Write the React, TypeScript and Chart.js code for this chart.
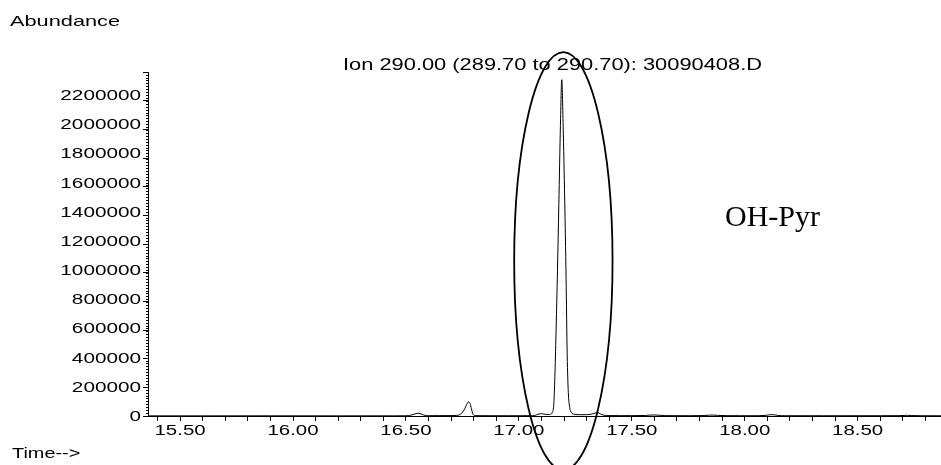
import React, { useEffect, useRef } from 'react';
import { Chart, registerables } from 'chart.js';

Chart.register(...registerables);

// Retention time (min) of the extracted ion chromatogram trace
const retentionTime = [
  15.36, 15.6, 15.9, 16.2, 16.45, 16.5, 16.52, 16.535, 16.555, 16.57, 16.585, 16.6, 16.65, 16.7,
  16.725, 16.74, 16.755, 16.765, 16.772, 16.778, 16.784, 16.79, 16.795, 16.8, 16.81, 16.85, 16.95,
  17.05, 17.07, 17.085, 17.1, 17.115, 17.13, 17.14, 17.148, 17.155, 17.16, 17.165, 17.171, 17.177,
  17.184, 17.19, 17.196, 17.203, 17.209, 17.214, 17.219, 17.225, 17.232, 17.245, 17.27, 17.3, 17.32,
  17.34, 17.35, 17.36, 17.375, 17.4, 17.45, 17.5, 17.56, 17.58, 17.6, 17.625, 17.65, 17.75, 17.82,
  17.845, 17.86, 17.88, 17.92, 17.98, 18.06, 18.09, 18.11, 18.125, 18.145, 18.18, 18.35, 18.6, 18.68,
  18.71, 18.72, 18.74, 18.78, 18.869,
];

// Abundance for ion 290.00 at each retention time
const abundance = [
  1000, 1000, 1200, 1000, 1200, 1500, 5000, 12000, 19000, 12000, 4000, 2500, 2500, 2800,
  4000, 10000, 35000, 65000, 88000, 97000, 85000, 50000, 20000, 6000, 2500, 2000, 2000,
  2000, 4000, 12000, 16000, 12000, 10000, 12000, 25000, 90000, 300000, 600000, 1000000, 1450000,
  1990000, 2305000, 1990000, 1480000, 950000, 420000, 160000, 60000, 25000, 12000, 9000, 9000, 12000,
  21000, 23000, 15000, 6000, 3000, 2500, 2500, 3500, 6000, 7000, 5000, 2500, 2000, 3000,
  6000, 6500, 4000, 2500, 2000, 2000, 4000, 8500, 9000, 4000, 2000, 1800, 2000, 2500,
  4000, 4500, 3000, 2000, 1500,
];

const xTickLabels = ['15.50', '16.00', '16.50', '17.00', '17.50', '18.00', '18.50'];
const yTickLabels = [
  '0', '200000', '400000', '600000', '800000', '1000000', '1200000',
  '1400000', '1600000', '1800000', '2000000', '2200000',
];

const titleText = 'Ion 290.00 (289.70 to 290.70): 30090408.D';
const yAxisText = 'Abundance';
const xAxisText = 'Time-->';
const annotationText = 'OH-Pyr';

// Hand-drawn ellipse around the OH-Pyr peak, in data units
const ellipseCenter = { time: 17.197, abundance: 1062000 };
const ellipseRadius = { time: 0.2178, abundance: 1432000 };

const X_MIN = 15.358;
const X_MAX = 18.869;
const Y_MAX = 2357800;

const SANS = '"Liberation Sans", Arial, Helvetica, sans-serif';

function drawStretched(
  ctx: CanvasRenderingContext2D,
  text: string,
  x: number,
  y: number,
  font: string,
  sx: number,
  align: CanvasTextAlign
) {
  ctx.save();
  ctx.font = font;
  ctx.textAlign = align;
  ctx.textBaseline = 'alphabetic';
  ctx.translate(x, y);
  ctx.scale(sx, 1);
  ctx.fillText(text, 0, 0);
  ctx.restore();
}

const overlayPlugin = {
  id: 'chemstationOverlay',
  afterDraw(chart: any) {
    const { ctx, chartArea } = chart;
    const xs = chart.scales.x;
    const ys = chart.scales.y;
    ctx.save();
    ctx.fillStyle = '#000';
    ctx.strokeStyle = '#000';

    // minor y ticks
    ctx.lineWidth = 1;
    ctx.beginPath();
    for (let v = 0; v <= Y_MAX; v += 20000) {
      const py = Math.round(ys.getPixelForValue(v)) + 0.5;
      ctx.moveTo(chartArea.left - 2, py);
      ctx.lineTo(chartArea.left, py);
    }
    ctx.stroke();

    // y tick labels
    yTickLabels.forEach((l) => {
      const py = ys.getPixelForValue(Number(l));
      drawStretched(ctx, l, chartArea.left - 7, py + 5, `14px ${SANS}`, 1.48, 'right');
    });

    // x tick labels
    xTickLabels.forEach((l) => {
      const px = xs.getPixelForValue(Number(l));
      drawStretched(ctx, l, px, chartArea.bottom + 19, `14px ${SANS}`, 1.46, 'center');
    });

    // texts
    drawStretched(ctx, titleText, 552.5, 70, `16px ${SANS}`, 1.365, 'center');
    drawStretched(ctx, yAxisText, 10, 26, `15px ${SANS}`, 1.45, 'left');
    drawStretched(ctx, xAxisText, 12, 458, `14px ${SANS}`, 1.42, 'left');

    ctx.font = '30px "Liberation Serif", "Times New Roman", serif';
    ctx.textAlign = 'left';
    ctx.textBaseline = 'alphabetic';
    ctx.fillText(annotationText, 725, 226);

    // ellipse
    const cx = xs.getPixelForValue(ellipseCenter.time);
    const cy = ys.getPixelForValue(ellipseCenter.abundance);
    const rx = xs.getPixelForValue(ellipseCenter.time + ellipseRadius.time) - cx;
    const ry = cy - ys.getPixelForValue(ellipseCenter.abundance + ellipseRadius.abundance);
    ctx.beginPath();
    ctx.lineWidth = 1.8;
    ctx.ellipse(cx, cy, Math.abs(rx), Math.abs(ry), 0, 0, Math.PI * 2);
    ctx.stroke();
    ctx.restore();
  },
};

export default function App() {
  const canvasRef = useRef<HTMLCanvasElement | null>(null);

  useEffect(() => {
    const canvas = canvasRef.current;
    if (!canvas) return;
    const data = retentionTime.map((t, i) => ({ x: t, y: abundance[i] }));
    const chart = new Chart(canvas, {
      type: 'line',
      data: {
        datasets: [
          {
            data,
            borderColor: '#000',
            borderWidth: 1,
            pointRadius: 0,
            fill: false,
            cubicInterpolationMode: 'monotone',
          },
        ],
      },
      options: {
        animation: false,
        responsive: false,
        devicePixelRatio: 1,
        layout: { padding: { left: 143, top: 72, right: 0, bottom: 44 } },
        plugins: { legend: { display: false }, tooltip: { enabled: false }, title: { display: false } },
        scales: {
          x: {
            type: 'linear',
            min: X_MIN,
            max: X_MAX,
            ticks: { display: false, stepSize: 0.1, includeBounds: false, autoSkip: false },
            grid: { display: true, drawOnChartArea: false, drawTicks: true, tickLength: 5, color: '#000', lineWidth: 1 },
            border: { display: true, color: '#000', width: 1 },
          },
          y: {
            type: 'linear',
            min: 0,
            max: Y_MAX,
            ticks: { display: false, stepSize: 200000, includeBounds: false, autoSkip: false },
            grid: { display: true, drawOnChartArea: false, drawTicks: true, tickLength: 5, color: '#000', lineWidth: 1 },
            border: { display: true, color: '#000', width: 1 },
          },
        },
      },
      plugins: [overlayPlugin],
    });
    return () => chart.destroy();
  }, []);

  return (
    <div style={{ position: 'fixed', left: 0, top: 0, width: 941, height: 465, background: '#fff' }}>
      <canvas ref={canvasRef} width={941} height={465} />
    </div>
  );
}
